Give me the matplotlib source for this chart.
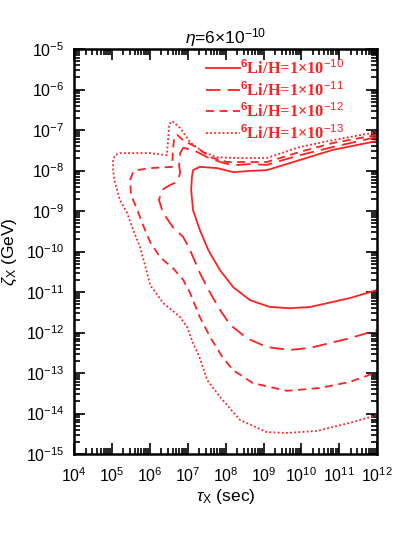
import matplotlib.pyplot as plt
import numpy as np
from matplotlib.ticker import LogLocator, NullFormatter

# contour points: log10(tau_X / sec), log10(zeta_X / GeV)
# each contour runs from the right edge along the top, down the left side, back to the right edge
lt_1e10 = [12.0, 10.83, 9.96, 9.09, 8.64, 8.20, 7.77, 7.32, 7.14, 7.11, 7.09, 7.14,
           7.32, 7.54, 7.85, 8.20, 8.64, 9.17, 9.70, 10.23, 11.28, 12.0]
lz_1e10 = [-7.27, -7.49, -7.74, -7.99, -8.01, -8.04, -7.94, -7.91, -7.99, -8.16, -8.48, -8.98,
           -9.47, -9.96, -10.46, -10.88, -11.20, -11.37, -11.40, -11.37, -11.15, -10.95]

lt_1e11 = [12.0, 10.83, 9.96, 9.09, 8.64, 8.20, 7.93, 7.51, 7.14, 6.88, 6.80, 6.77, 6.80,
           6.72, 6.53, 6.32, 6.24, 6.35, 6.61, 6.88, 7.06, 7.32, 7.59, 7.85, 8.12, 8.56,
           9.09, 9.70, 10.23, 11.28, 12.0]
lz_1e11 = [-7.17, -7.42, -7.62, -7.86, -7.84, -7.87, -7.81, -7.67, -7.49, -7.44, -7.57, -7.86,
           -8.06, -8.28, -8.36, -8.48, -8.73, -9.05, -9.40, -9.64, -9.96, -10.53, -11.02,
           -11.44, -11.81, -12.14, -12.36, -12.43, -12.38, -12.14, -11.94]

lt_1e12 = [12.0, 10.83, 9.96, 9.09, 8.64, 8.04, 7.59, 7.25, 6.88, 6.72, 6.64, 6.61, 6.59,
           6.59, 6.01, 5.66, 5.56, 5.48, 5.50, 5.66, 5.82, 6.01, 6.27, 6.61, 6.88, 7.06,
           7.32, 7.59, 7.93, 8.20, 8.72, 9.62, 10.49, 11.28, 12.0]
lz_1e12 = [-7.12, -7.32, -7.54, -7.79, -7.79, -7.79, -7.67, -7.44, -7.25, -7.12, -7.20, -7.49,
           -7.86, -7.91, -7.94, -7.99, -8.04, -8.23, -8.60, -8.95, -9.35, -9.77, -10.14,
           -10.41, -10.70, -11.02, -11.62, -12.11, -12.63, -12.93, -13.25, -13.44, -13.37,
           -13.22, -12.98]

lt_1e13 = [12.0, 10.83, 9.96, 9.09, 8.64, 8.20, 7.77, 7.40, 7.06, 6.80, 6.59, 6.51, 6.48,
           6.45, 6.01, 5.21, 5.08, 5.03, 5.03, 5.06, 5.21, 5.40, 5.56, 5.74, 5.87, 6.01,
           6.35, 6.80, 6.98, 7.14, 7.32, 7.51, 7.85, 8.38, 9.09, 9.62, 10.41, 11.28, 12.0]
lz_1e13 = [-7.05, -7.25, -7.42, -7.69, -7.69, -7.69, -7.67, -7.54, -7.30, -6.95, -6.78, -6.85,
           -7.25, -7.62, -7.57, -7.57, -7.62, -7.74, -7.99, -8.23, -8.73, -9.05, -9.47, -9.89,
           -10.33, -10.83, -11.27, -11.62, -11.86, -12.26, -12.63, -13.17, -13.59, -14.16,
           -14.46, -14.48, -14.43, -14.23, -14.04]

labels = [r'$^{\mathbf{6}}$Li/H=1×10$^{-10}$', r'$^{\mathbf{6}}$Li/H=1×10$^{-11}$',
          r'$^{\mathbf{6}}$Li/H=1×10$^{-12}$', r'$^{\mathbf{6}}$Li/H=1×10$^{-13}$']
curves = [(lt_1e10, lz_1e10), (lt_1e11, lz_1e11), (lt_1e12, lz_1e12), (lt_1e13, lz_1e13)]
styles = ['-', (0, (8, 4)), (0, (4.5, 3)), (0, (1, 1.3))]
red = '#ff2020'

plt.rcParams['font.family'] = 'Liberation Sans'
plt.rcParams['mathtext.fontset'] = 'custom'
plt.rcParams['mathtext.rm'] = 'Liberation Sans'
plt.rcParams['mathtext.it'] = 'Liberation Sans:italic'
plt.rcParams['mathtext.bf'] = 'Liberation Sans:bold'

fig = plt.figure(figsize=(4.14, 5.54), dpi=100)
ax = fig.add_axes([0.179, 0.1805, 0.732, 0.731])

for (lt, lz), ls, lab in zip(curves, styles, labels):
    ax.plot(10 ** np.array(lt), 10 ** np.array(lz), color=red, ls=ls, lw=1.3, label=lab)

ax.set_xscale('log')
ax.set_yscale('log')
ax.set_xlim(1e4, 1e12)
ax.set_ylim(1e-15, 1e-5)

ax.xaxis.set_major_locator(LogLocator(base=10, numticks=20))
ax.yaxis.set_major_locator(LogLocator(base=10, numticks=20))
ax.xaxis.set_minor_locator(LogLocator(base=10, subs=np.arange(2, 10), numticks=20))
ax.yaxis.set_minor_locator(LogLocator(base=10, subs=np.arange(2, 10), numticks=20))
ax.yaxis.set_minor_formatter(NullFormatter())
ax.xaxis.set_minor_formatter(NullFormatter())

ax.tick_params(which='both', direction='in', top=True, right=True, width=1.2)
ax.tick_params(which='major', length=8, labelsize=11.5)
ax.tick_params(axis='x', which='major', pad=9)
ax.tick_params(axis='y', which='major', pad=7)
ax.tick_params(which='minor', length=4)
for s in ax.spines.values():
    s.set_linewidth(1.8)

ax.set_xlabel(r'$\tau_{\rm X}$ (sec)', fontsize=12.5, labelpad=1)
ax.set_ylabel(r'$\zeta_{\rm X}$ (GeV)', fontsize=12.5, labelpad=5)
ax.set_title(r'$\eta$=6×10$^{-10}$', fontsize=12.5, pad=3)

leg = ax.legend(loc='upper left', bbox_to_anchor=(0.435, 0.975), frameon=False,
                handlelength=2.1, handletextpad=0.0, labelspacing=0.18,
                borderpad=0, borderaxespad=0,
                prop={'family': 'Liberation Serif', 'weight': 'bold', 'size': 11.8})
for t in leg.get_texts():
    t.set_color(red)

fig.savefig('out.png', dpi=100)
